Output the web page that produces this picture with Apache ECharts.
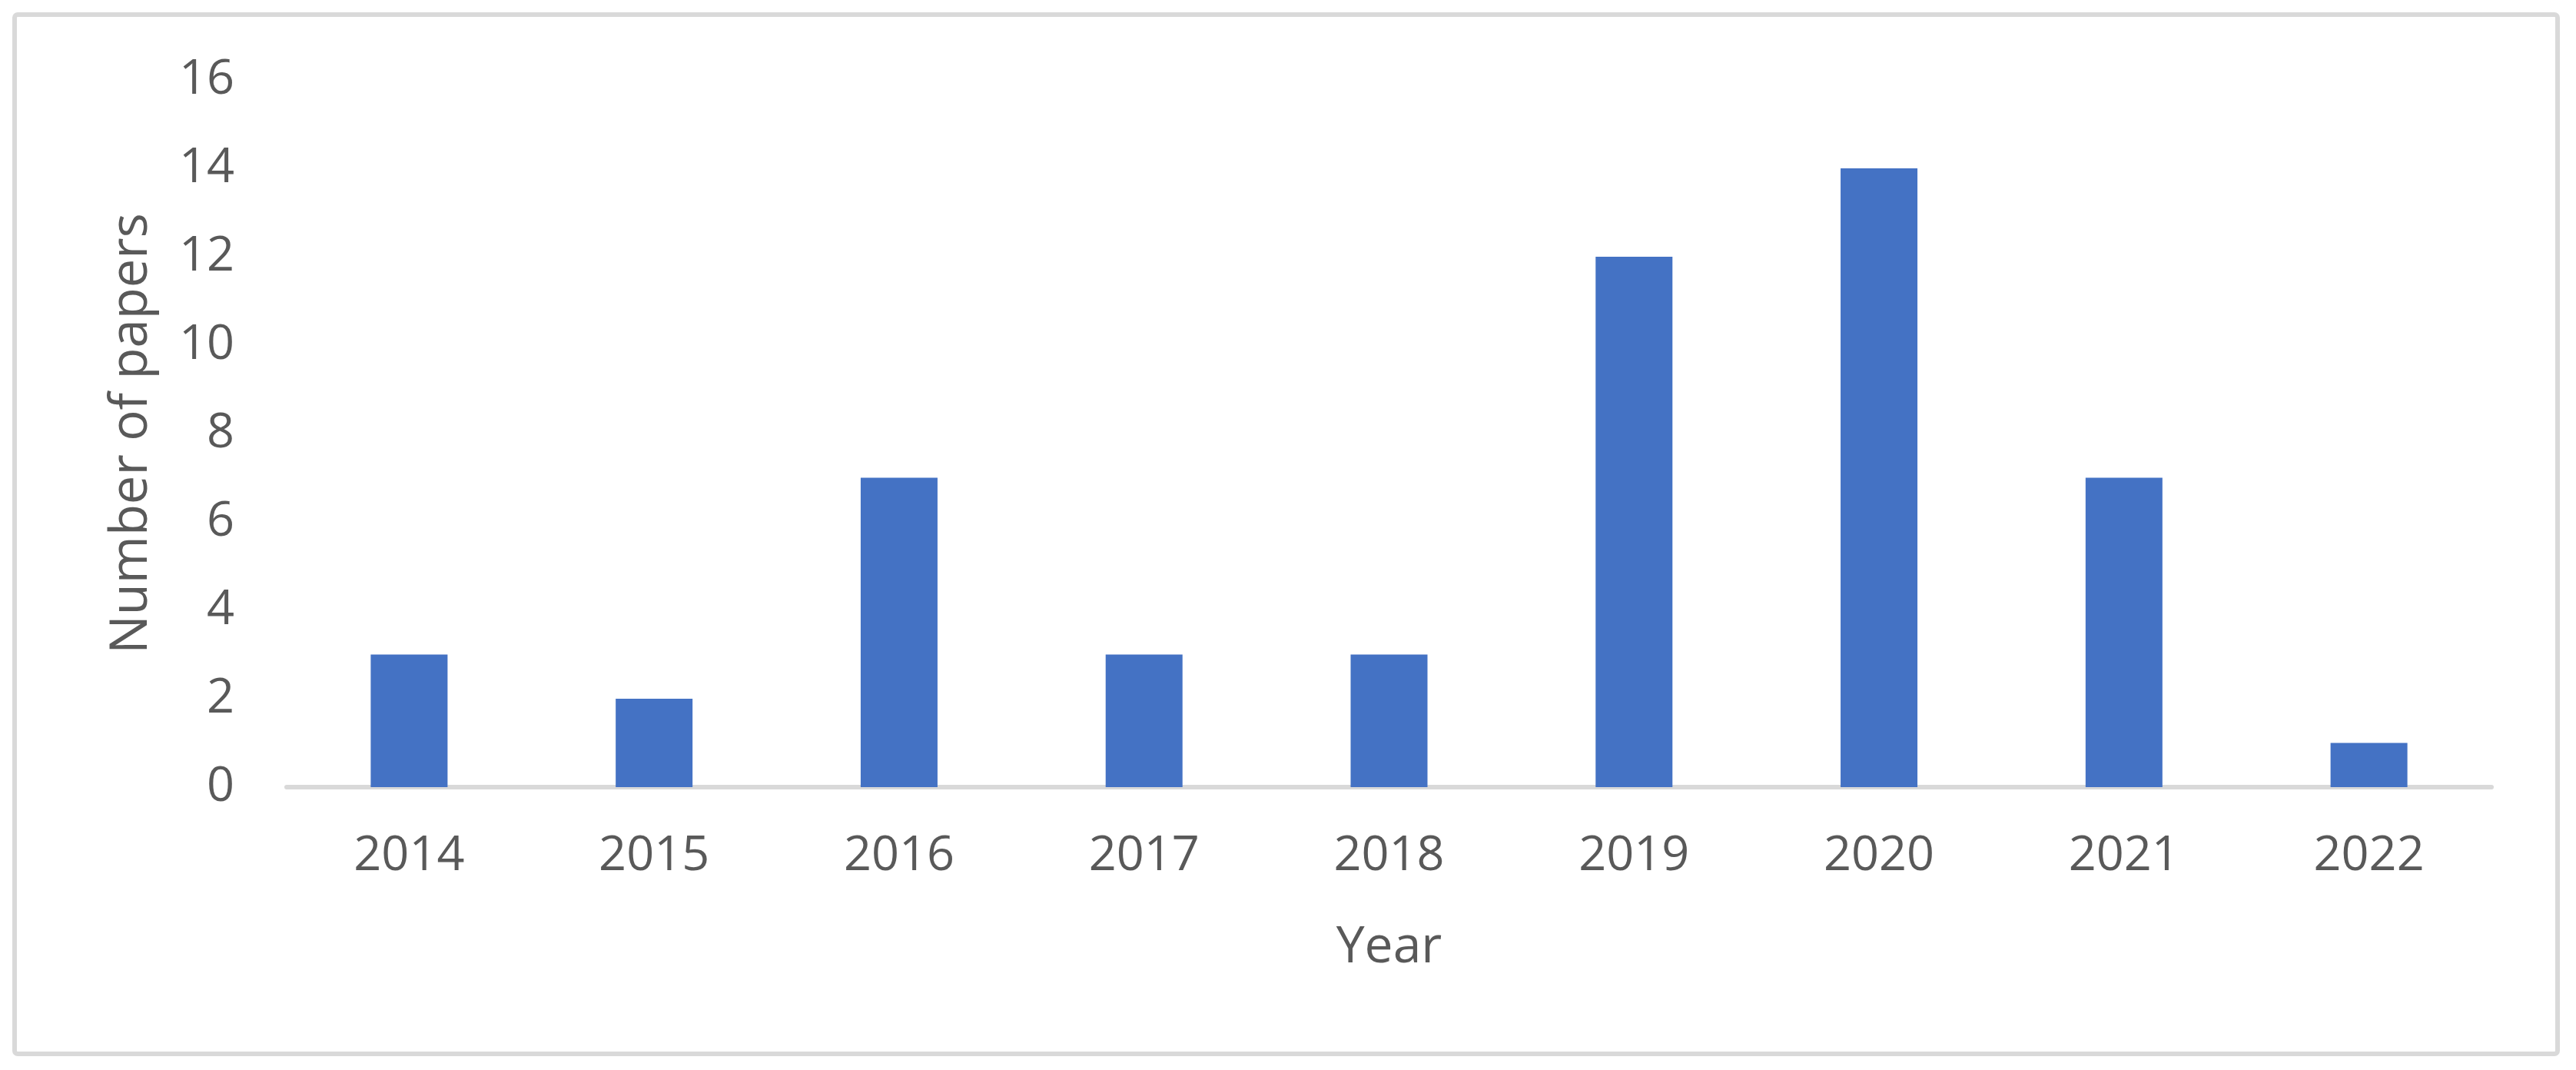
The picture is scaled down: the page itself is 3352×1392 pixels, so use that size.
<!DOCTYPE html>
<html>
<head>
<meta charset="utf-8">
<script src="https://cdn.jsdelivr.net/npm/echarts@6/dist/echarts.min.js"></script>
<style>
html,body{margin:0;padding:0;background:#fff;}
#chart{width:3352px;height:1392px;}
</style>
</head>
<body>
<div id="chart"></div>
<script>
const years = ['2014','2015','2016','2017','2018','2019','2020','2021','2022'];
const papers = [3, 2, 7, 3, 3, 12, 14, 7, 1];
const yTicks = [0, 2, 4, 6, 8, 10, 12, 14, 16];

const chart = echarts.init(document.getElementById('chart'), null, {renderer: 'canvas'});
const font = '"Open Sans", "Liberation Sans", sans-serif';
chart.setOption({
  backgroundColor: '#ffffff',
  animation: false,
  graphic: [{
    type: 'rect',
    shape: {x: 19, y: 19, width: 3309, height: 1352, r: 4},
    style: {fill: 'none', stroke: '#d9d9d9', lineWidth: 6},
    z: -1
  }],
  grid: {left: 373, right: 110, top: 104, bottom: 368, containLabel: false},
  xAxis: {
    type: 'category',
    data: years,
    name: 'Year',
    nameLocation: 'middle',
    nameGap: 176,
    nameTextStyle: {fontFamily: font, fontSize: 66, color: '#595959'},
    axisLine: {show: true, lineStyle: {color: '#d9d9d9', width: 6}},
    axisTick: {show: false},
    axisLabel: {fontFamily: font, fontSize: 63, color: '#595959', margin: 59},
    splitLine: {show: false}
  },
  yAxis: {
    type: 'value',
    min: yTicks[0],
    max: yTicks[yTicks.length - 1],
    interval: yTicks[1] - yTicks[0],
    name: 'Number of papers',
    nameLocation: 'middle',
    nameRotate: 90,
    nameGap: 168,
    nameTextStyle: {fontFamily: font, fontSize: 67, color: '#595959'},
    axisLine: {show: false},
    axisTick: {show: false},
    axisLabel: {fontFamily: font, fontSize: 63, color: '#595959', margin: 68},
    splitLine: {show: false}
  },
  series: [{
    type: 'bar',
    data: papers,
    barWidth: 100,
    itemStyle: {color: '#4472c4'}
  }]
});
</script>
</body>
</html>
